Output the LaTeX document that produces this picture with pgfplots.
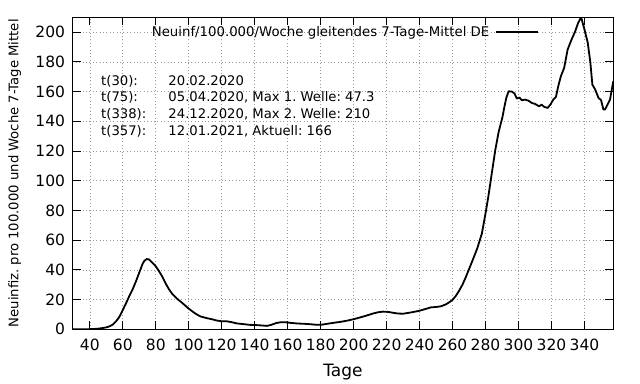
\documentclass[border=0pt]{standalone}
\usepackage{fontspec}
\setmainfont{DejaVu Sans}
\usepackage{pgfplots}
\pgfplotsset{compat=1.18}
\frenchspacing
\begin{document}
\begin{tikzpicture}
\begin{axis}[
  name=ax,
  scale only axis,
  width=540.8bp, height=312bp,
  xmin=29.5, xmax=357.5, ymin=0, ymax=210,
  xtick={40,60,...,340}, ytick={0,20,...,200},
  tick align=inside, major tick length=8bp,
  tick style={black, line width=0.8bp},
  axis line style={line width=1bp},
  grid=major,
  grid style={black!40, line width=0.6bp, dash pattern=on 0.8bp off 2.6bp},
  /pgf/number format/assume math mode=true,
  ticklabel style={font=\fontsize{15.5bp}{18bp}\selectfont},
  xticklabel style={yshift=-6bp},
  yticklabel style={xshift=-4bp},
  xlabel={Tage},
  xlabel style={font=\fontsize{17bp}{20bp}\selectfont, at={(axis description cs:0.5,-0.1497)}, anchor=base},
  ylabel={Neuinfiz. pro 100.000 und Woche 7-Tage Mittel},
  ylabel style={font=\fontsize{13.2bp}{15bp}\selectfont, at={(axis description cs:-0.107,0.5)}, anchor=center},
  legend plot pos=right,
  legend cell align=right,
  legend style={draw=none, fill=none, at={(axis description cs:0.8632,0.953)}, anchor=east, font=\fontsize{13.3bp}{15bp}\selectfont, inner sep=0pt},
  legend image code/.code={\path (0bp,0bp); \draw[#1] (4bp,0bp) -- (46bp,0bp);},
]
\addplot[black, line width=1.8bp, line join=round] coordinates {
(29.5,0) (35,0) (40,0.1) (44,0.3) (47,0.7) (50,1.3) (52,2) (54,3.2) (56,5.5) (58,8.5)
(60,13) (62,17.6) (64,22.5) (66,27) (68,32.3) (70,38.2) (72,44) (73,46) (74.5,47.3) (76,47)
(78,44.8) (80,42.4) (82,39.1) (84,35.4) (86,30.8) (88,27) (90,23.8) (93,20.5) (96,17.8) (100,13.9)
(104,10.6) (107,8.7) (111,7.5) (114,6.8) (117,5.9) (120,5.4) (123,5.4) (126,4.8) (129,4.0) (133,3.5)
(137,3.0) (140,2.9) (144,2.6) (147.5,2.3) (150,3.0) (153,4.2) (156,4.8) (159,4.7) (162,4.3) (166,3.9)
(170,3.7) (174,3.4) (178,3.0) (180,3.0) (184,3.7) (188,4.4) (192,5.0) (196,5.8) (200,6.8) (204,8.0)
(208,9.3) (212,10.7) (215,11.5) (218,11.9) (221,11.7) (224,11.1) (227,10.6) (230,10.5) (233,11.0) (236,11.6)
(240,12.5) (244,13.8) (247,14.8) (250,15.0) (253,15.5) (256,16.8) (258,18.2) (260,19.8) (262,22.5) (264,26)
(266,30) (268,35) (270,40.5) (272.7,48) (275,54.5) (277.8,64.5) (280,78) (281.8,90) (283.8,105) (285.9,120.5)
(287.9,132.5) (290.3,143) (291.5,150) (292.6,155.8) (294,160.2) (296,160) (297.6,158.7) (299,155.3) (300.5,156) (302,154.2)
(304,154.6) (306,153.9) (308,152.4) (310,151.7) (312.5,150.1) (314,151.2) (315.6,149.7) (317.7,149) (319.3,151.2) (321.1,154.6)
(322.7,156.4) (324.1,163.6) (325.7,170.3) (327.7,176) (329.8,188.3) (332.2,195.1) (334.2,200) (336.2,206.3) (338,210) (340,201.8)
(342,192.9) (343.6,179.4) (344.8,164.7) (346.5,161.4) (348.5,155.8) (350.1,154.2) (351.5,147.9) (352.5,147.9) (355.5,154.6) (357.5,167)
};
\addlegendentry{Neuinf/100.000/Woche gleitendes 7-Tage-Mittel DE}
\begin{scope}[every node/.style={font=\fontsize{13.2bp}{15bp}\selectfont, inner sep=0pt}]
\node[anchor=base west] at (axis description cs:0.0527,0.783) {t(30):};
\node[anchor=base west] at (axis description cs:0.0527,0.7286) {t(75):};
\node[anchor=base west] at (axis description cs:0.0527,0.6747) {t(338):};
\node[anchor=base west] at (axis description cs:0.0527,0.6196) {t(357):};
\node[anchor=base west] at (axis description cs:0.1771,0.783) {20.02.2020};
\node[anchor=base west] at (axis description cs:0.1771,0.7286) {05.04.2020, Max 1. Welle: 47.3};
\node[anchor=base west] at (axis description cs:0.1771,0.6747) {24.12.2020, Max 2. Welle: 210};
\node[anchor=base west] at (axis description cs:0.1771,0.6196) {12.01.2021, Aktuell: 166};
\end{scope}
\end{axis}
\pgfresetboundingbox
\path[use as bounding box] (ax.south west) ++(-72.5bp,-54.7bp) rectangle ++(640bp,384bp);
\end{tikzpicture}
\end{document}
